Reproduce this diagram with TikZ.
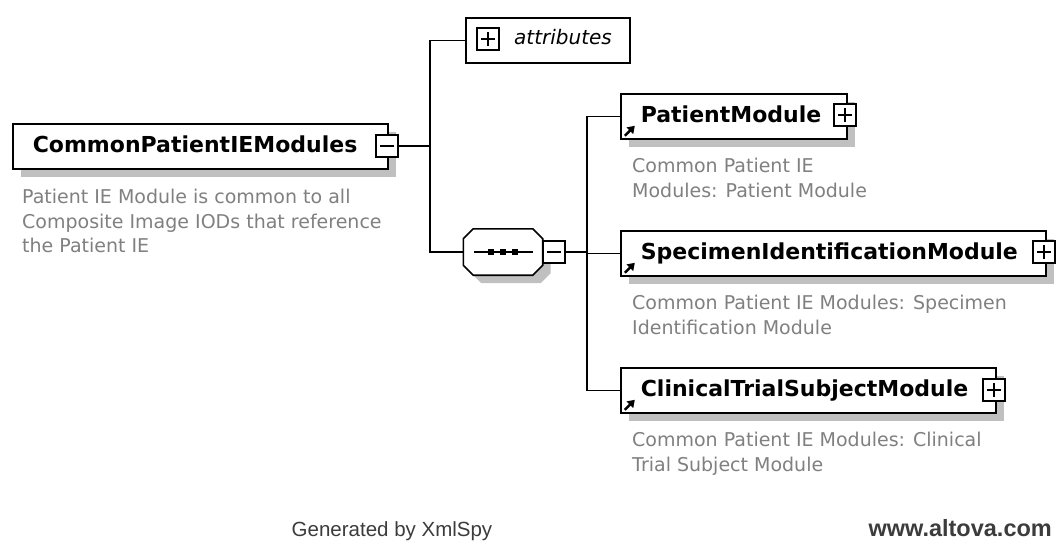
\documentclass[tikz,border=0pt]{standalone}
\usepackage{fontspec}
\setmainfont{DejaVu Sans}
\newfontfamily\footfont{Liberation Sans}
\usetikzlibrary{shadows,arrows.meta}
\definecolor{descgray}{RGB}{128,128,128}
\definecolor{shadegray}{RGB}{192,192,192}
\definecolor{footgray}{RGB}{60,60,60}
\tikzset{
  boxshade/.style={drop shadow={shadow xshift=8pt,shadow yshift=-8pt,fill=shadegray,opacity=1}},
  elembase/.style={draw,line width=1.6pt,fill=white,anchor=north west,
    minimum height=45pt,inner ysep=0pt,inner xsep=20pt,text width=#1,align=left,
    text height=16pt,text depth=4pt,font=\bfseries\fontsize{22}{22}\selectfont},
  elem/.style={elembase=#1,boxshade},
  refelem/.style={elem=#1,path picture={
    \draw[line width=2.4pt,-{Triangle[length=7pt,width=9pt]}]
      ([xshift=4pt,yshift=3pt]path picture bounding box.south west) --
      ([xshift=14pt,yshift=13pt]path picture bounding box.south west);}},
  pmbox/.style={draw,line width=1.3pt,fill=white,minimum size=22pt,inner sep=0pt},
  minusbox/.style={pmbox,path picture={
    \draw[line width=1.3pt] ([xshift=4pt]path picture bounding box.west) --
      ([xshift=-4pt]path picture bounding box.east);}},
  plusbox/.style={pmbox,path picture={
    \draw[line width=1.3pt] ([xshift=4pt]path picture bounding box.west) --
      ([xshift=-4pt]path picture bounding box.east);
    \draw[line width=1.3pt] ([yshift=-4pt]path picture bounding box.north) --
      ([yshift=4pt]path picture bounding box.south);}},
  desc/.style={anchor=north west,inner sep=0pt,align=left,text=descgray,
    font=\fontsize{19}{24.5}\selectfont},
  conn/.style={line width=1.6pt},
  footer/.style={anchor=base,inner sep=0pt,text=footgray}
}

\begin{document}
\begin{tikzpicture}[x=1pt,y=-1pt]
\useasboundingbox[fill=white] (0,0) rectangle (1056,542);

% root element
\node[elem=335pt] (main) at (12,123) {CommonPatientIEModules};
\node[minusbox] (mainx) at (387,146) {};
\node[desc] (maindesc) at (22,189) {Patient IE Module is common to all\\Composite Image IODs that reference\\the Patient IE};

% attributes
\node[elembase=128pt,align=right,inner xsep=18pt,
  font=\itshape\fontsize{20}{20}\selectfont,text height=13pt] (attr) at (465,17) {attributes};
\node[plusbox] (attrx) at (488,39) {};

% sequence compositor
\node[minimum width=79pt,minimum height=46pt,inner sep=0pt] (seq) at (503,252) {};
\draw[conn,fill=white,boxshade] ([xshift=10pt]seq.north west) -- ([xshift=-10pt]seq.north east)
  -- ([yshift=-10pt]seq.north east) -- ([yshift=10pt]seq.south east)
  -- ([xshift=-10pt]seq.south east) -- ([xshift=10pt]seq.south west)
  -- ([yshift=10pt]seq.south west) -- ([yshift=-10pt]seq.north west) -- cycle;
\draw[line width=1.3pt] ([xshift=11pt]seq.west) -- ([xshift=-10pt]seq.east);
\foreach \a/\b in {-15/-9,-3/3,9/15}
  \fill ([xshift=\a pt,yshift=-3pt]seq.center) rectangle ([xshift=\b pt,yshift=3pt]seq.center);
\node[minusbox] (seqx) at (554,252) {};

% child modules
\node[refelem=186pt] (pm) at (620,93) {PatientModule};
\node[plusbox] (pmx) at (845,115) {};
\node[desc] (pmdesc) at (632,158) {Common Patient IE\\Modules: Patient Module};

\node[refelem=385pt] (sim) at (620,230) {SpecimenIdentificationModule};
\node[plusbox] (simx) at (1044,252) {};
\node[desc] (simdesc) at (632,295) {Common Patient IE Modules: Specimen\\Identification Module};

\node[refelem=335pt] (ctsm) at (620,367) {ClinicalTrialSubjectModule};
\node[plusbox] (ctsmx) at (994,390) {};
\node[desc] (ctsmdesc) at (632,432) {Common Patient IE Modules: Clinical\\Trial Subject Module};

% connectors
\coordinate (jmain) at (430,146);
\coordinate (jseq) at (587,252);
\draw[conn] (mainx.east) -- (jmain);
\draw[conn] (jmain) |- (attr.west);
\draw[conn] (jmain) |- (seq.west);
\draw[conn] (seqx.east) -- (jseq);
\foreach \m in {pm,sim,ctsm}
  \draw[conn] (jseq) |- (\m.west);

% footer
\node[footer,font=\footfont\fontsize{20.5}{20.5}\selectfont] (gen) at (392,536) {Generated by XmlSpy};
\node[footer,anchor=base east,font=\footfont\bfseries\fontsize{23.5}{23.5}\selectfont] (www) at (1052,536) {www.altova.com};
\end{tikzpicture}
\end{document}
